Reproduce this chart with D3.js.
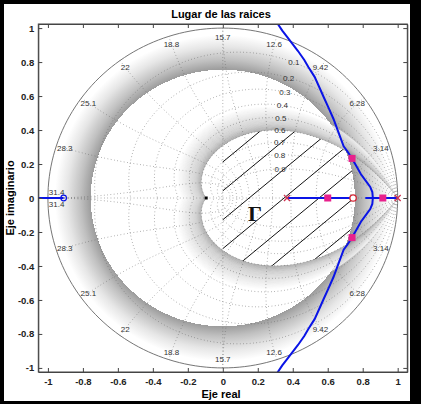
<!DOCTYPE html>
<html>
<head>
<meta charset="utf-8">
<script src="https://cdn.jsdelivr.net/npm/d3@7/dist/d3.min.js"></script>
<style>
  body { margin: 0; background: #000; }
  svg { display: block; }
  text { font-family: "Liberation Sans", Arial, Helvetica, sans-serif; }
</style>
</head>
<body>
<svg id="chart" width="421" height="404"></svg>
<script>
// ---- data ----
var xTicks = [-1, -0.8, -0.6, -0.4, -0.2, 0, 0.2, 0.4, 0.6, 0.8, 1];
var yTicks = [-1, -0.8, -0.6, -0.4, -0.2, 0, 0.2, 0.4, 0.6, 0.8, 1];
var zetaValues = [0.1, 0.2, 0.3, 0.4, 0.5, 0.6, 0.7, 0.8, 0.9];
var wnLabels = ["3.14", "6.28", "9.42", "12.6", "15.7", "18.8", "22", "25.1", "28.3", "31.4"];
var zetaMin = 0.6;      // damping bound of region Gamma
var zetaFade = 0.42;    // where its shading fades out
var radiusMax = 0.755;  // radius bound of region Gamma
var radiusFade = 0.96;

// upper branch of the root locus (mirrored for the lower one)
var locusX = [0.858, 0.855, 0.843, 0.825, 0.79, 0.765, 0.739, 0.712, 0.691, 0.662, 0.633, 0.605, 0.576, 0.557, 0.525, 0.49, 0.466, 0.43, 0.395, 0.37, 0.34, 0.311];
var locusY = [0.0, 0.035, 0.065, 0.09, 0.14, 0.185, 0.233, 0.275, 0.304, 0.385, 0.465, 0.53, 0.596, 0.64, 0.713, 0.77, 0.812, 0.865, 0.911, 0.945, 0.985, 1.03];
var realSegStart = [0.367, 0.815, -1.06];
var realSegEnd = [0.745, 1.0, -0.91];
var poles = [0.367, 1.0];
var zeros = [0.745];
var leftZero = [-0.91];
var pointsX = [0.6, 0.915, 0.739, 0.739];
var pointsY = [0, 0, 0.233, -0.233];
var notchX = [-0.095];
var hatchOffsets = [0.212, 0.042, -0.128, -0.298, -0.468, -0.638, -0.808];

// ---- layout ----
var svg = d3.select("#chart");
var x = d3.scaleLinear().domain([-1.055, 1.055]).range([38.3, 407.3]);
var y = d3.scaleLinear().domain([-1.024, 1.024]).range([372, 24]);

svg.append("rect").attr("x", 4).attr("y", 4).attr("width", 406).attr("height", 397).attr("fill", "#fff");

var defs = svg.append("defs");
defs.append("clipPath").attr("id", "axclip").append("rect")
  .attr("x", x.range()[0]).attr("y", y.range()[1])
  .attr("width", x.range()[1] - x.range()[0]).attr("height", y.range()[0] - y.range()[1]);

var line = d3.line().x(function(d) { return x(d[0]); }).y(function(d) { return y(d[1]); });
var plot = svg.append("g").attr("clip-path", "url(#axclip)");

// spiral of constant damping, theta from -pi to pi
function cardioid(z) {
  var k = z / Math.sqrt(1 - z * z), pts = [];
  for (var i = 0; i <= 240; i++) {
    var t = -Math.PI + i * 2 * Math.PI / 240;
    var r = Math.exp(-k * Math.abs(t));
    pts.push([r * Math.cos(t), r * Math.sin(t)]);
  }
  return pts;
}

// ring outside |z| = radiusMax
var grad = defs.append("radialGradient").attr("id", "ringgrad");
var f0 = radiusMax / radiusFade;
[[0, "#fff"], [f0, "#fff"], [f0, "#9c9c9c"], [f0 + 0.06, "#c0c0c0"], [f0 + 0.14, "#e6e6e6"], [1, "#fff"]]
  .forEach(function(s) { grad.append("stop").attr("offset", s[0]).attr("stop-color", s[1]); });
plot.append("ellipse")
  .attr("cx", x(0)).attr("cy", y(0))
  .attr("rx", x(radiusFade) - x(0)).attr("ry", y(0) - y(radiusFade))
  .attr("fill", "url(#ringgrad)");

// shading outside the damping spiral
var nStrips = 36;
var stripColor = d3.scaleLinear().domain([0, 0.25, 1]).range(["#9a9a9a", "#c4c4c4", "#ffffff"]);
for (var i = nStrips - 1; i >= 0; i--) {
  var za = zetaMin - (zetaMin - zetaFade) * i / nStrips;
  var zb = zetaMin - (zetaMin - zetaFade) * (i + 1) / nStrips;
  plot.append("path")
    .attr("d", line(cardioid(zb)) + "Z" + line(cardioid(za).reverse()) + "Z")
    .attr("fill-rule", "evenodd")
    .attr("fill", stripColor(i / nStrips));
}

// zgrid
var grid = plot.append("g").attr("fill", "none").attr("stroke", "#666")
  .attr("stroke-width", 0.7).attr("stroke-dasharray", "0.7,2.6");
zetaValues.forEach(function(z) {
  var k = z / Math.sqrt(1 - z * z), up = [], dn = [];
  for (var i = 0; i <= 120; i++) {
    var t = i * Math.PI / 120, r = Math.exp(-k * t);
    up.push([r * Math.cos(t), r * Math.sin(t)]);
    dn.push([r * Math.cos(t), -r * Math.sin(t)]);
  }
  grid.append("path").attr("d", line(up));
  grid.append("path").attr("d", line(dn));
});
wnLabels.forEach(function(lab, m) {
  var w = (m + 1) * Math.PI / 10, up = [], dn = [];
  for (var i = 0; i <= 60; i++) {
    var z = i / 60, r = Math.exp(-w * z), t = w * Math.sqrt(1 - z * z);
    up.push([r * Math.cos(t), r * Math.sin(t)]);
    dn.push([r * Math.cos(t), -r * Math.sin(t)]);
  }
  grid.append("path").attr("d", line(up));
  grid.append("path").attr("d", line(dn));
});
grid.append("path").attr("d", line([[-1, 0], [1, 0]]));
grid.append("path").attr("d", line([[0, -1], [0, 1]]));
var circ = [];
for (var i = 0; i <= 200; i++) circ.push([Math.cos(i * Math.PI / 100), Math.sin(i * Math.PI / 100)]);
plot.append("path").attr("d", line(circ)).attr("fill", "none").attr("stroke", "#666").attr("stroke-width", 0.9);

// hatching of region Gamma (right half)
var kMin = zetaMin / Math.sqrt(1 - zetaMin * zetaMin), gam = [[0, 0]];
for (var i = 0; i <= 120; i++) {
  var t = -Math.PI / 2 + i * Math.PI / 120;
  var r = Math.min(Math.exp(-kMin * Math.abs(t)), radiusMax);
  gam.push([r * Math.cos(t), r * Math.sin(t)]);
}
defs.append("clipPath").attr("id", "gamclip").append("path").attr("d", line(gam) + "Z");
var hatch = plot.append("g").attr("clip-path", "url(#gamclip)");
hatchOffsets.forEach(function(c) {
  hatch.append("path").attr("d", line([[-0.1, c - 0.085], [1, c + 0.85]]))
    .attr("stroke", "#111").attr("stroke-width", 1);
});

// grid labels
var labs = plot.append("g").attr("font-size", 8).attr("fill", "#333").attr("text-anchor", "middle");
zetaValues.forEach(function(z) {
  var r = Math.exp(-z * 1.105), t = 1.105 * Math.sqrt(1 - z * z);
  labs.append("text").attr("x", x(r * Math.cos(t))).attr("y", y(r * Math.sin(t)) + 3).text(z);
});
wnLabels.forEach(function(lab, m) {
  var t = (m + 1) * Math.PI / 10;
  var dy = m === 9 ? 6 : 0;
  labs.append("text").attr("x", x(0.95 * Math.cos(t))).attr("y", y(0.95 * Math.sin(t)) + 3 - dy).text(lab);
  labs.append("text").attr("x", x(0.95 * Math.cos(t))).attr("y", y(-0.95 * Math.sin(t)) + 3 + dy).text(lab);
});

// root locus
var up = locusX.map(function(v, i) { return [v, locusY[i]]; });
var dn = locusX.map(function(v, i) { return [v, -locusY[i]]; });
var loc = plot.append("g").attr("fill", "none").attr("stroke", "#0a14e6").attr("stroke-width", 2);
loc.append("path").attr("d", line(up));
loc.append("path").attr("d", line(dn));
realSegStart.forEach(function(s, i) {
  loc.append("path").attr("d", line([[s, 0], [realSegEnd[i], 0]]));
});
plot.selectAll(".lz").data(leftZero).enter().append("circle")
  .attr("cx", function(d) { return x(d); }).attr("cy", y(0)).attr("r", 2.8)
  .attr("fill", "none").attr("stroke", "#0a14e6").attr("stroke-width", 1.2);
plot.selectAll(".zr").data(zeros).enter().append("circle")
  .attr("cx", function(d) { return x(d); }).attr("cy", y(0)).attr("r", 3.2)
  .attr("fill", "#fff").attr("stroke", "#d02030").attr("stroke-width", 1.3);
plot.selectAll(".pl").data(poles).enter().append("path")
  .attr("d", function(d) { var a = x(d), b = y(0); return "M" + (a - 3) + "," + (b - 3) + "L" + (a + 3) + "," + (b + 3) + "M" + (a - 3) + "," + (b + 3) + "L" + (a + 3) + "," + (b - 3); })
  .attr("stroke", "#d03050").attr("stroke-width", 1.3);
plot.selectAll(".pt").data(pointsX).enter().append("rect")
  .attr("x", function(d) { return x(d) - 3.5; })
  .attr("y", function(d, i) { return y(pointsY[i]) - 3.5; })
  .attr("width", 7).attr("height", 7).attr("fill", "#e8208c");
plot.selectAll(".nt").data(notchX).enter().append("rect")
  .attr("x", function(d) { return x(d) - 1.5; }).attr("y", y(0) - 1.5)
  .attr("width", 3).attr("height", 3).attr("fill", "#000");

// Gamma label
svg.append("text").attr("x", 255).attr("y", 221).attr("text-anchor", "middle")
  .style("font-family", "'Liberation Serif', 'Times New Roman', serif").style("font-size", "22px")
  .style("font-weight", "bold").attr("fill", "#111").text("\u0393");

// axes
var fmt = function(d) { return String(+d.toFixed(1)); };
function styleAxis(g) {
  g.selectAll("path, line").attr("stroke", "#444");
  g.selectAll("text").attr("font-size", 9.5).attr("font-weight", "bold").attr("fill", "#222");
}
svg.append("g").attr("transform", "translate(0," + y.range()[0] + ")")
  .call(d3.axisBottom(x).tickValues(xTicks).tickSize(-4).tickSizeOuter(0).tickPadding(6).tickFormat(fmt)).call(styleAxis);
svg.append("g").attr("transform", "translate(0," + y.range()[1] + ")")
  .call(d3.axisTop(x).tickValues(xTicks).tickSize(-4).tickSizeOuter(0).tickFormat("")).call(styleAxis);
svg.append("g").attr("transform", "translate(" + x.range()[0] + ",0)")
  .call(d3.axisLeft(y).tickValues(yTicks).tickSize(-4).tickSizeOuter(0).tickPadding(4).tickFormat(fmt)).call(styleAxis);
svg.append("g").attr("transform", "translate(" + x.range()[1] + ",0)")
  .call(d3.axisRight(y).tickValues(yTicks).tickSize(-4).tickSizeOuter(0).tickFormat("")).call(styleAxis);
svg.append("rect").attr("x", x.range()[0]).attr("y", y.range()[1])
  .attr("width", x.range()[1] - x.range()[0]).attr("height", y.range()[0] - y.range()[1])
  .attr("fill", "none").attr("stroke", "#444").attr("stroke-width", 1);

// titles
svg.append("text").attr("x", 221).attr("y", 18).attr("text-anchor", "middle")
  .attr("font-size", 11).attr("font-weight", "bold").text("Lugar de las raices");
svg.append("text").attr("x", 221).attr("y", 398).attr("text-anchor", "middle")
  .attr("font-size", 11).attr("font-weight", "bold").text("Eje real");
svg.append("text").attr("transform", "translate(14,198) rotate(-90)").attr("text-anchor", "middle")
  .attr("font-size", 11).attr("font-weight", "bold").text("Eje imaginario");
</script>
</body>
</html>
